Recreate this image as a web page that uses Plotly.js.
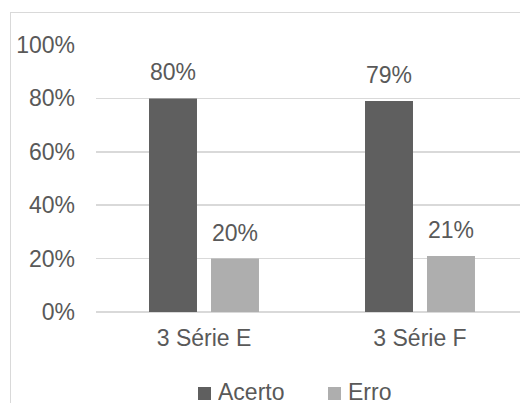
<!DOCTYPE html>
<html><head><meta charset="utf-8">
<script src="https://cdn.plot.ly/plotly-3.0.1.min.js"></script>
<style>
html,body{margin:0;padding:0;background:#fff;}
#wrap{position:relative;width:520px;height:403px;overflow:hidden;}
#chart{position:absolute;left:0;top:0;width:520px;height:403px;}
#frame{position:absolute;left:10px;top:12px;width:600px;height:500px;border-left:1.5px solid #d9d9d9;border-top:1.5px solid #d9d9d9;pointer-events:none;}
</style></head>
<body>
<div id="wrap"><div id="chart"></div><div id="frame"></div></div>
<script>
const categories = ["3 Série E", "3 Série F"];
const seriesNames = ["Acerto", "Erro"];
const acerto = [0.80, 0.79];
const erro = [0.20, 0.21];
const yTickVals = [0, 0.2, 0.4, 0.6, 0.8, 1.0];
const yTickText = ["0%", "20%", "40%", "60%", "80%", "100%"];

const colors = ["#5f5f5f", "#aeaeae"];
const font = "Liberation Sans, Arial, sans-serif";
const fs = 23;
const txt = "#595959";
const series = [acerto, erro];

const W = 520, H = 403, L = 96, T = 45, B = 91;
const pw = W - L, ph = H - T - B;
const px2x = p => (p - L) / pw;
const py2y = p => (H - B - p) / ph;

const traces = series.map((vals, i) => ({
  type: "bar", name: seriesNames[i], x: categories, y: vals,
  marker: {color: colors[i]}, hoverinfo: "skip"
}));

const annotations = [];
series.forEach((vals, i) => {
  vals.forEach((v, j) => {
    annotations.push({
      x: categories[j], y: v, xref: "x", yref: "y",
      text: Math.round(v * 100) + "%", showarrow: false,
      yanchor: "bottom", xanchor: "center",
      xshift: i === 0 ? -31 : 31, yshift: 11,
      font: {family: font, size: fs, color: txt}
    });
  });
});

// custom legend built from series names and colours
const legendLeft = [198, 328];
const shapes = [];
seriesNames.forEach((name, i) => {
  shapes.push({type: "rect", xref: "paper", yref: "paper",
    x0: px2x(legendLeft[i]), x1: px2x(legendLeft[i] + 13),
    y0: py2y(400), y1: py2y(387),
    fillcolor: colors[i], line: {width: 0}, layer: "above"});
  annotations.push({xref: "paper", yref: "paper",
    x: px2x(legendLeft[i] + 18), y: py2y(392),
    xanchor: "left", yanchor: "middle", showarrow: false, height: 20,
    text: name, font: {family: font, size: fs, color: txt}});
});

const layout = {
  width: W, height: H,
  margin: {l: L, r: 0, t: T, b: B},
  paper_bgcolor: "#fff", plot_bgcolor: "#fff",
  barmode: "group", bargap: 0.426, bargroupgap: 0.226,
  showlegend: false,
  xaxis: {range: [-0.5, 1.463], type: "category", showgrid: false, zeroline: false,
    showline: false, ticks: "", ticklabelstandoff: 10,
    tickfont: {family: font, size: fs, color: txt}, fixedrange: true},
  yaxis: {range: [0, 1], tickvals: yTickVals, ticktext: yTickText,
    showgrid: true, gridcolor: "#d9d9d9", gridwidth: 1.5,
    zeroline: true, zerolinecolor: "#d9d9d9", zerolinewidth: 1.5,
    showline: false, ticks: "", ticklabelstandoff: 20,
    tickfont: {family: font, size: fs, color: txt}, fixedrange: true},
  annotations: annotations,
  shapes: shapes
};

Plotly.newPlot("chart", traces, layout, {staticPlot: true, displayModeBar: false});
</script>
</body></html>
